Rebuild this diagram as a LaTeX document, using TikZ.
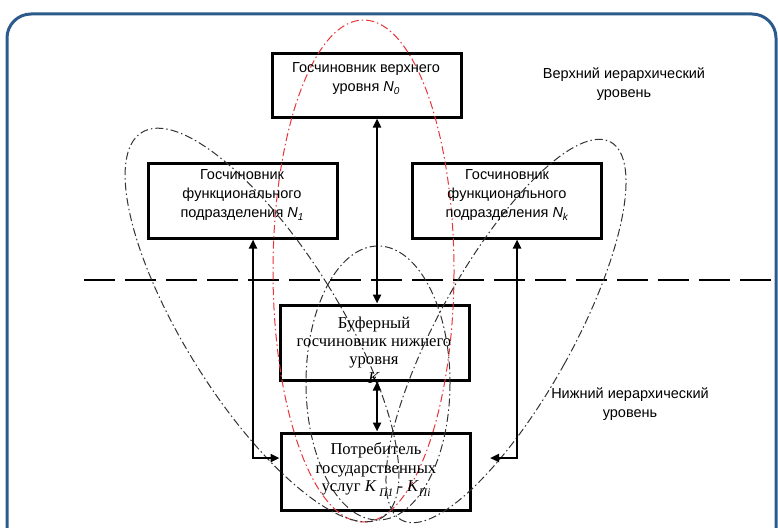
\documentclass[tikz,border=0pt]{standalone}
\usepackage{fontspec}
\setmainfont{Liberation Sans}
\newfontfamily\serifru{Liberation Serif}
\usetikzlibrary{arrows.meta,calc}
\definecolor{frameblue}{HTML}{2D5A8C}
\definecolor{ellred}{HTML}{E8343A}
\definecolor{ellgray}{HTML}{333333}
\newcommand{\sanssub}[1]{\raisebox{-0.5ex}{\fontsize{10}{10}\selectfont\textit{#1}}}
\newcommand{\serifsub}[1]{\raisebox{-0.7ex}{\fontsize{11.5}{11.5}\selectfont\textit{#1}}}
\tikzset{
  frame/.style={draw=frameblue,line width=3pt,rounded corners=24pt},
  box/.style={draw,line width=3pt,minimum width=189pt,inner sep=0pt},
  sanslbl/.style={align=center,inner sep=0pt,font=\fontsize{14.5}{19}\selectfont},
  seriflbl/.style={align=center,inner sep=0pt,font=\serifru\fontsize{16.6}{18.3}\selectfont},
  conn/.style={line width=2.9pt,{Triangle[length=9pt,width=8pt]}-{Triangle[length=9pt,width=8pt]}},
  levelline/.style={line width=2.4pt,dash pattern=on 31pt off 10pt},
  grayell/.style={draw=ellgray,line width=1pt,dash pattern=on 8pt off 3pt on 1.5pt off 3pt},
  redell/.style={draw=ellred,line width=1pt,dash pattern=on 8pt off 3pt on 1.5pt off 3pt}
}
\begin{document}
\begin{tikzpicture}[x=1pt,y=-1pt]
\useasboundingbox (0,0) rectangle (778,527);
\begin{scope}
\clip (0,0) rectangle (778,527);
\draw[frame] (7,14) rectangle (776,620);
\end{scope}

% level separator
\coordinate (dl) at (84,280);
\coordinate (dr) at (778,280);
\draw[levelline] (dl) -- (dr);

% boxes
\node[box,minimum height=63pt] (n0) at (366.5,85.5) {};
\node[box,minimum height=75pt] (n1) at (242.5,200.5) {};
\node[box,minimum height=75pt] (nk) at (506.5,200.5) {};
\node[box,minimum height=75pt] (buf) at (374.5,342.5) {};
\node[box,minimum height=77pt] (cons) at (375.5,471.5) {};

% ellipses
\draw[redell] (363.5,271) ellipse (90.5 and 251);
\draw[grayell,rotate around={32:(262,325)}] (262,325) ellipse (77 and 227);
\draw[grayell,rotate around={-29:(506,331)}] (506,331) ellipse (67 and 216);
\draw[grayell] (378,383) ellipse (72 and 137);

% texts
\node[sanslbl] (n0t) at (366,78.5) {Госчиновник верхнего\\уровня \textit{N}\sanssub{0}};
\node[sanslbl] (n1t) at (242,195) {Госчиновник\\функционального\\подразделения \textit{N}\sanssub{1}};
\node[sanslbl] (nkt) at (507,195) {Госчиновник\\функционального\\подразделения \textit{N}\sanssub{k}};
\node[seriflbl] (buft) at (374,350) {Буферный\\госчиновник нижнего\\уровня\\\textit{K}};
\node[seriflbl] (const) at (376,470) {Потребитель\\государственных\\услуг \textit{K}\,\serifsub{П1} - \textit{K}\serifsub{Пi}};
\node[sanslbl] (upl) at (624,84) {Верхний иерархический\\уровень};
\node[sanslbl] (lowl) at (630,404) {Нижний иерархический\\уровень};

% connectors
\coordinate (ax) at (377,0);
\coordinate (lx) at (253,458);
\coordinate (rx) at (517,458);
\coordinate (re) at (490,458);
\draw[conn] (n0.south -| ax) -- (buf.north -| ax);
\draw[conn] (buf.south -| ax) -- (cons.north -| ax);
\draw[conn] (n1.south -| lx) |- (cons.west |- lx);
\draw[conn] (nk.south -| rx) |- (re);
\end{tikzpicture}
\end{document}
